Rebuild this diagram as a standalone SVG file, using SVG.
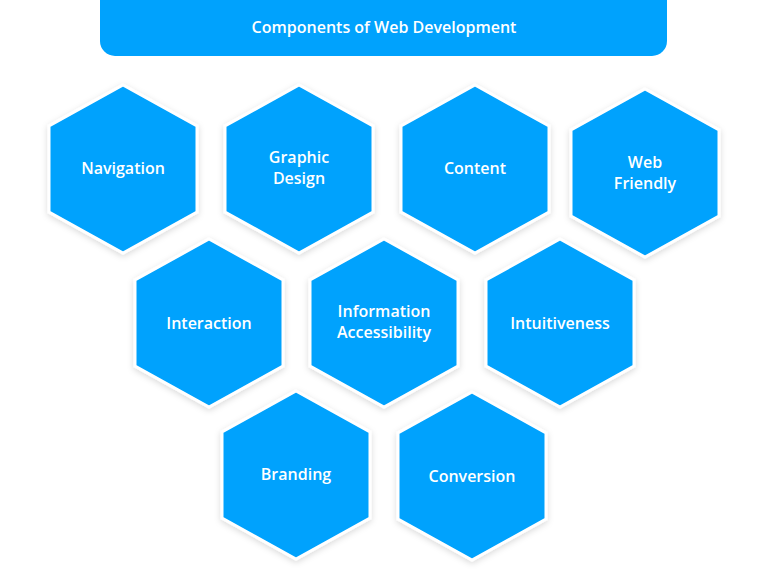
<svg xmlns="http://www.w3.org/2000/svg" width="768" height="586" viewBox="0 0 768 586">
<defs>
<filter id="sh" x="-20%" y="-20%" width="140%" height="140%"><feDropShadow dx="0" dy="2" stdDeviation="3" flood-color="#000" flood-opacity="0.15"/></filter>
<polygon id="hx" points="0,-84 74,-43 74,43 0,84 -74,43 -74,-43"/>
</defs>
<style>
.h{fill:#00a2fd;stroke:#fff;stroke-width:3;filter:url(#sh)}
.t{font-family:"Open Sans","Liberation Sans",sans-serif;font-weight:600;font-size:16px;fill:#fff;text-anchor:middle}
</style>
<rect width="768" height="586" fill="#fff"/>
<g id="header">
<path d="M100,0 H667 V41 a15,15 0 0 1 -15,15 H115 a15,15 0 0 1 -15,-15 Z" fill="#00a2fd"/>
<text class="t" x="384" y="33" font-size="20">Components of Web Development</text>
</g>
<g id="n1"><use href="#hx" class="h" x="123" y="169"/><text class="t" x="123" y="174">Navigation</text></g>
<g id="n2"><use href="#hx" class="h" x="299" y="169"/><text class="t" x="299" y="163">Graphic</text><text class="t" x="299" y="184">Design</text></g>
<g id="n3"><use href="#hx" class="h" x="475" y="169"/><text class="t" x="475" y="174">Content</text></g>
<g id="n4"><use href="#hx" class="h" x="645" y="173"/><text class="t" x="645" y="168">Web</text><text class="t" x="645" y="189">Friendly</text></g>
<g id="n5"><use href="#hx" class="h" x="209" y="323"/><text class="t" x="209" y="329">Interaction</text></g>
<g id="n6"><use href="#hx" class="h" x="384" y="323"/><text class="t" x="384" y="317">Information</text><text class="t" x="384" y="338">Accessibility</text></g>
<g id="n7"><use href="#hx" class="h" x="560" y="323"/><text class="t" x="560" y="329">Intuitiveness</text></g>
<g id="n8"><use href="#hx" class="h" x="296" y="475"/><text class="t" x="296" y="480">Branding</text></g>
<g id="n9"><use href="#hx" class="h" x="472" y="476"/><text class="t" x="472" y="482">Conversion</text></g>
<g id="connectors"/>
</svg>
